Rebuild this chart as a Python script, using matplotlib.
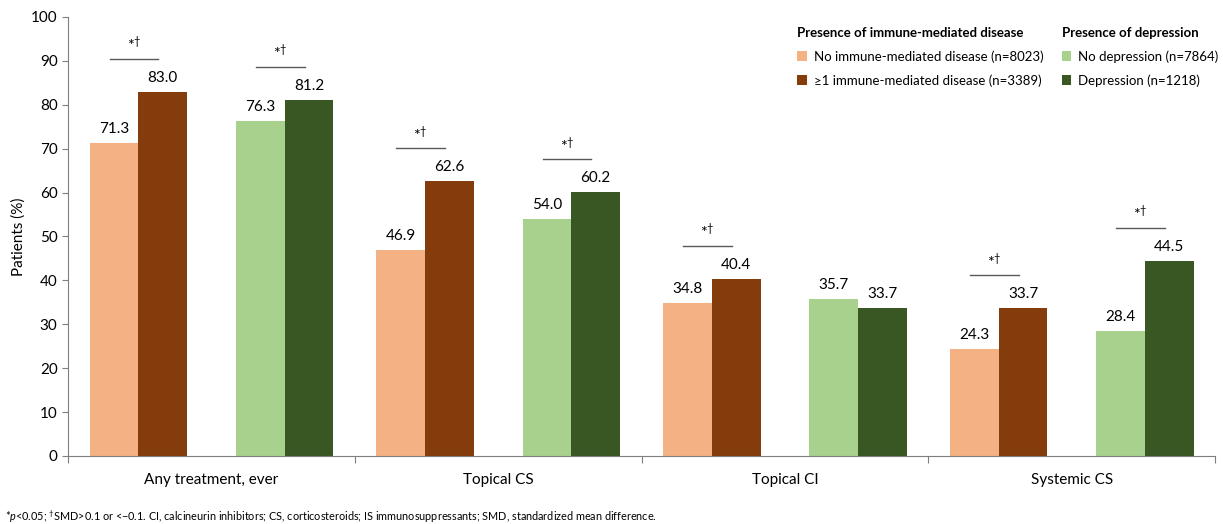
"""Treatment use by immune-mediated disease and depression status."""

import matplotlib
matplotlib.use("Agg")
from matplotlib import pyplot as plt
import numpy as np

plt.rcParams["font.family"] = ["Lato", "DejaVu Sans"]
plt.rcParams["mathtext.fontset"] = "custom"
plt.rcParams["mathtext.rm"] = "Lato"
plt.rcParams["mathtext.it"] = "Lato:italic"

categories = ["Any treatment, ever", "Topical CS", "Topical CI", "Systemic CS"]

no_imd = [71.3, 46.9, 34.8, 24.3]
imd = [83.0, 62.6, 40.4, 33.7]
no_dep = [76.3, 54.0, 35.7, 28.4]
dep = [81.2, 60.2, 33.7, 44.5]

# significance flags: (immune-mediated pair, depression pair)
sig_imd = [True, True, True, True]
sig_dep = [True, True, False, True]

series_labels = [
    "No immune-mediated disease (n=8023)",
    "\u22651 immune-mediated disease (n=3389)",
    "No depression (n=7864)",
    "Depression (n=1218)",
]
colors = ["#F4B183", "#843C0C", "#A9D18E", "#385723"]

fig = plt.figure(figsize=(12.23, 5.24), dpi=100)
ax = fig.add_axes([0.0556, 0.1298, 0.938, 0.8378])

x = np.arange(len(categories))
width = 0.17
offsets = [0.16, 0.33, 0.67, 0.84]
all_series = [no_imd, imd, no_dep, dep]

bars = []
for vals, off, col, lab in zip(all_series, offsets, colors, series_labels):
    b = ax.bar(x + off, vals, width, color=col, label=lab, zorder=2)
    bars.append(b)
    for xi, v in zip(x + off, vals):
        ax.annotate(f"{v:.1f}", (xi, v), xytext=(0, 5), textcoords="offset points",
                    ha="center", va="bottom", fontsize=11)

# significance brackets
for i in range(len(categories)):
    pairs = [(sig_imd[i], no_imd[i], imd[i], offsets[0], offsets[1]),
             (sig_dep[i], no_dep[i], dep[i], offsets[2], offsets[3])]
    for sig, a, b, oa, ob in pairs:
        if not sig:
            continue
        y = max(a, b) + 7.5
        ax.plot([i + oa - 0.015, i + ob - 0.015], [y, y], color="#595959", lw=1, zorder=3)
        ax.text(i + (oa + ob) / 2 - 0.015, y + 1.8, r"*$^{\dagger}$", ha="center",
                va="bottom", fontsize=11.5)

ax.set_xlim(0, 4)
ax.set_ylim(0, 100)
ax.set_yticks(range(0, 101, 10))
ax.set_xticks(range(0, 5))
ax.set_xticklabels([])
ax.set_xticks(x + 0.5, minor=True)
ax.set_xticklabels(categories, minor=True, fontsize=11)
ax.tick_params(axis="x", which="minor", length=0, pad=12)
ax.tick_params(axis="x", which="major", length=5, color="#7f7f7f")
ax.tick_params(axis="y", length=4, color="#7f7f7f", labelsize=11)
ax.set_ylabel("Patients (%)", fontsize=11)
for side in ["top", "right"]:
    ax.spines[side].set_visible(False)
for side in ["left", "bottom"]:
    ax.spines[side].set_color("#7f7f7f")

leg_kw = dict(loc="upper left", bbox_transform=fig.transFigure, frameon=False,
              handlelength=0.75, handleheight=0.75, handletextpad=0.5,
              fontsize=9.5, title_fontproperties={"weight": "bold", "size": 9.5},
              alignment="left", labelspacing=0.85, borderaxespad=0, borderpad=0)
leg1 = ax.legend(handles=bars[:2], labels=series_labels[:2],
                 title="Presence of immune-mediated disease",
                 bbox_to_anchor=(0.652, 0.948), **leg_kw)
leg1._legend_box.sep = 8
ax.add_artist(leg1)
leg2 = ax.legend(handles=bars[2:], labels=series_labels[2:],
                 title="Presence of depression",
                 bbox_to_anchor=(0.868, 0.948), **leg_kw)
leg2._legend_box.sep = 8

fig.text(0.004, 0.006,
         r"*$\it{p}$<0.05; $^{\dagger}$SMD>0.1 or <" + "\u2212" +
         "0.1. CI, calcineurin inhibitors; "
         "CS, corticosteroids; IS immunosuppressants; SMD, standardized mean difference.",
         fontsize=7.8)

fig.savefig("out.png", dpi=100)
